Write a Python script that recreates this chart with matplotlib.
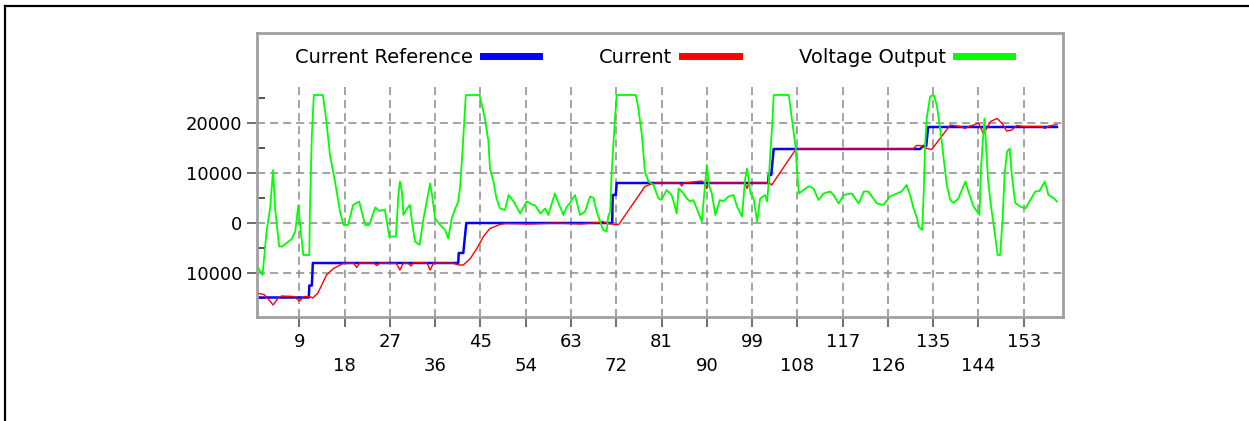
import matplotlib
matplotlib.use('Agg')
import matplotlib.pyplot as plt
from matplotlib.lines import Line2D

plt.rcParams['font.family'] = ['DejaVu Sans']
plt.rcParams['lines.scale_dashes'] = False

# ---------------- data ----------------
series_names = ["Current Reference", "Current", "Voltage Output"]

ref_t = [1, 10.9, 11.0, 11.5, 11.7, 40.6, 40.7, 41.6, 42.2, 71.2, 71.3, 71.9, 72.1,
         102.2, 102.3, 102.8, 103.3, 132.4, 133.0, 133.6, 134.0, 159.6]
ref_v = [-14900, -14900, -12500, -12500, -8000, -8000, -6000, -6000, 0, 0, 5600, 5600, 8000,
         8000, 9600, 9600, 14800, 14800, 15400, 15400, 19200, 19200]

cur_t = [1.0, 2.0, 3.0, 3.8, 4.8, 5.5, 8.0, 9.0, 10.0, 11.0, 11.7, 12.7, 13.8, 14.4, 15.8, 17.1,
         17.7, 19.8, 20.4, 21.0, 23.8, 24.4, 25.0, 28.3, 29.0, 29.7, 30.7, 31.2, 31.7, 34.4, 35.0,
         35.7, 39.5, 40.6, 41.6, 43.0, 44.3, 45.6, 46.9, 48.9, 50.0, 55.0, 60.0, 65.0, 68.5, 69.4,
         70.2, 71.8, 72.5, 77.7, 78.7, 80.0, 84.6, 85.0, 85.4, 89.0, 89.6, 90.0, 90.4, 97.6, 98.0,
         98.4, 102.4, 102.9, 107.6, 108.5, 131.0, 131.7, 132.4, 133.4, 134.7, 138.4, 140.4, 141.3,
         142.3, 143.3, 144.0, 145.0, 146.4, 147.7, 148.7, 149.6, 150.6, 151.6, 153.0, 156.5, 157.2,
         158.0, 159.6]
cur_v = [-14100, -14300, -15400, -16400, -15000, -14600, -14700, -15600, -14700, -14700, -15000,
         -14000, -11700, -10400, -9100, -8400, -8100, -8000, -8900, -8000, -8000, -8500, -8000,
         -8100, -9400, -8000, -8100, -8600, -7900, -8000, -9400, -8000, -8000, -8400, -8400, -7100,
         -5100, -2700, -1100, -300, -100, -200, 0, -200, 100, 300, -100, -300, -300, 7300, 7700,
         8000, 8000, 7400, 8000, 8400, 8000, 6900, 8000, 8000, 6900, 8000, 8000, 7600, 14600, 14800,
         14800, 15500, 15500, 15000, 14700, 19600, 19300, 18900, 19400, 19700, 20000, 17800, 20300,
         20900, 19900, 18400, 18600, 19500, 19300, 19300, 18900, 19400, 19700]

volt_t = [0.9, 1.7, 2.5, 3.2, 3.8, 4.2, 5.0, 5.6, 7.5, 8.2, 8.8, 9.1, 9.8, 11.0, 11.1, 11.5, 11.9,
          13.7, 14.4, 15.1, 16.1, 17.1, 17.8, 18.7, 19.7, 20.9, 22.1, 22.9, 24.1, 24.9, 26.0, 26.9,
          28.2, 28.7, 29.0, 29.4, 29.7, 30.4, 31.0, 31.4, 32.0, 32.9, 33.7, 34.7, 35.0, 35.4, 36.0,
          37.0, 38.0, 38.6, 39.3, 40.0, 40.6, 41.0, 41.5, 42.1, 44.8, 45.3, 45.9, 46.6, 46.9, 47.6,
          48.2, 48.9, 49.9, 50.6, 51.6, 52.9, 54.2, 55.5, 55.9, 56.9, 57.9, 58.5, 59.8, 60.5, 61.5,
          62.2, 62.8, 63.8, 64.8, 65.8, 66.8, 67.5, 68.1, 68.8, 69.4, 70.1, 70.4, 70.8, 71.1, 71.8,
          72.1, 75.9, 76.4, 77.1, 77.7, 78.4, 79.4, 80.4, 81.0, 82.0, 83.0, 83.4, 84.0, 84.4, 85.4,
          86.0, 86.7, 87.3, 88.0, 89.0, 89.7, 90.0, 90.4, 91.0, 91.7, 92.6, 93.3, 94.3, 95.3, 96.0,
          97.0, 97.6, 98.0, 98.3, 98.7, 99.3, 100.0, 100.6, 101.6, 102.0, 102.3, 102.6, 103.0, 103.3,
          106.3, 106.9, 107.6, 108.0, 108.3, 109.2, 110.2, 110.5, 111.2, 112.2, 113.2, 114.5, 115.2,
          116.2, 117.2, 118.8, 120.2, 121.2, 122.1, 123.8, 125.1, 126.4, 127.8, 128.7, 129.7, 130.4,
          131.1, 131.8, 132.1, 132.8, 133.1, 133.4, 133.7, 134.4, 135.1, 135.7, 136.1, 136.7, 137.0,
          137.7, 138.4, 139.0, 140.0, 141.4, 142.0, 143.0, 144.2, 144.5, 144.9, 145.2, 145.5, 145.9,
          146.5, 147.2, 147.8, 148.3, 148.8, 149.2, 149.7, 150.2, 150.6, 151.3, 152.3, 153.3, 154.3,
          155.3, 156.1, 157.2, 157.9, 158.9, 159.6]
volt_v = [-9100, -10400, -1700, 2900, 10600, 2900, -4700, -4700, -3200, -1700, 3500, 300, -6400,
          -6400, 1600, 17600, 25600, 25600, 20300, 13600, 8300, 2300, -400, -400, 3600, 4300, -400,
          -400, 3100, 2400, 2700, -2700, -2700, 5600, 8300, 6300, 1600, 2900, 3600, 300, -3700, -4400,
          900, 6300, 7900, 5600, 900, -400, -1400, -3100, 900, 2900, 4300, 7600, 15300, 25600, 25600,
          23600, 20900, 16300, 10900, 8300, 4900, 2900, 2600, 5600, 4300, 1900, 4300, 3600, 3500,
          1900, 2900, 1600, 5900, 4000, 1600, 3300, 4000, 5600, 1600, 2300, 5300, 5000, 2300, 300,
          -1400, -1700, 1300, 2300, 10300, 21600, 25600, 25600, 22900, 17600, 10300, 8300, 7600,
          4900, 4600, 6600, 5600, 4300, 1900, 6900, 5900, 4900, 4300, 4600, 2900, 300, 8300, 11600,
          7600, 5900, 1600, 4600, 4300, 5300, 5600, 3300, 1300, 8600, 10900, 8900, 5900, 4900, 300,
          4900, 5600, 4300, 8300, 13600, 19600, 25600, 25600, 20900, 15600, 9600, 5900, 6600, 7300,
          7300, 6900, 4600, 5900, 6300, 5600, 3900, 5600, 5900, 3900, 6300, 6300, 3900, 3600, 5300,
          5900, 6300, 7600, 5600, 2900, 900, -700, -1400, 5600, 15600, 20900, 25300, 25600, 23600,
          20900, 16300, 13600, 7600, 4600, 4000, 4900, 8300, 6300, 3300, 1600, 10900, 16900, 20900,
          15600, 8600, 3300, -1700, -6400, -6400, 900, 9900, 14300, 14900, 9900, 4000, 3300, 2900,
          4600, 6300, 6400, 8300, 5600, 5000, 4300]

x_row1 = [9, 27, 45, 63, 81, 99, 117, 135, 153]
x_row2 = [18, 36, 54, 72, 90, 108, 126, 144]
y_major = [-10000, 0, 10000, 20000]
y_major_labels = ["10000", "0", "10000", "20000"]
y_minor = [-15000, -5000, 5000, 15000, 25000]

# ---------------- figure ----------------
W, H = 1249, 421
fig = plt.figure(figsize=(W / 100, H / 100), dpi=100)
ax = fig.add_axes([257 / W, 1 - 317 / H, 806 / W, 284 / H])

xmin, xmax = 0.6, 160.8
ymin, ymax = -18800, 38000
vgrid_top = 27600

grid_style = dict(color='#8a8a8a', lw=1.1, linestyle=(0, (5.8, 3.6)))
ax.set_axisbelow(True)
ax.vlines(sorted(x_row1 + x_row2), ymin, vgrid_top, zorder=0.5, **grid_style)
for yv in y_major:
    ax.axhline(yv, zorder=0.5, **grid_style)

ax.plot(ref_t, ref_v, color='#0000ff', lw=1.8, zorder=2)
ax.plot(cur_t, cur_v, color='#ff0000', lw=1.0, zorder=3)
ax.plot(volt_t, volt_v, color='#00ff00', lw=1.3, zorder=4)

ax.set_xlim(xmin, xmax)
ax.set_ylim(ymin, ymax)

ax.set_yticks(y_major)
ax.set_yticklabels(y_major_labels)
ax.set_yticks(y_minor, minor=True)
ax.set_xticks(x_row1)
ax.set_xticklabels([str(v) for v in x_row1])
ax.set_xticks(x_row2, minor=True)
ax.set_xticklabels([str(v) for v in x_row2], minor=True)

tick_col = '#555555'
ax.tick_params(axis='y', which='major', direction='out', length=7, width=1.2,
               color=tick_col, pad=3.5, labelsize=13, labelcolor='black')
ax.tick_params(axis='y', which='minor', direction='in', length=6, width=1.2, color='#333333')
ax.tick_params(axis='x', which='both', direction='out', length=7, width=1.2,
               color=tick_col, labelsize=13, labelcolor='black')
ax.tick_params(axis='x', which='major', pad=4.5)
ax.tick_params(axis='x', which='minor', pad=22)

for sp in ax.spines.values():
    sp.set_color('#a0a0a0')
    sp.set_linewidth(2)

handles = [Line2D([], [], color=c, lw=5) for c in ['#0000ff', '#ff0000', '#00ff00']]
ax.legend(handles, series_names, ncol=3, loc='center', bbox_to_anchor=(0.492, 0.915),
          frameon=False, markerfirst=False, handlelength=2.9, handletextpad=0.5,
          columnspacing=3.1, fontsize=14, borderpad=0, borderaxespad=0)

# outer black frame (top and left edges visible)
fig.add_artist(Line2D([5 / W, 1], [1 - 6 / H, 1 - 6 / H], transform=fig.transFigure,
                      color='black', lw=1.6))
fig.add_artist(Line2D([5 / W, 5 / W], [0, 1 - 6 / H], transform=fig.transFigure,
                      color='black', lw=1.6))

fig.savefig('out.png', dpi=100)
